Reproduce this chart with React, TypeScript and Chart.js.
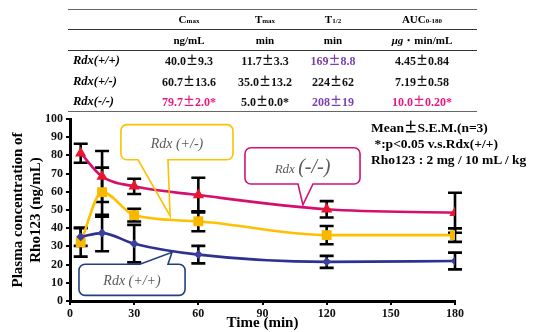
import React, { useEffect, useRef } from 'react';
import { Chart, registerables } from 'chart.js';
Chart.register(...registerables);

// ---- data ----
const times = [5, 15, 30, 60, 120, 180];
const koMean = [81.2, 68.4, 63.0, 58.2, 50.4, 48.5];   // Rdx(-/-)
const koSem = [5.2, 14.0, 4.2, 9.5, 4.5, 11.0];
const hetMean = [32.2, 59.8, 47.2, 43.8, 36.2, 36.2]; // Rdx(+/-)
const hetSem = [7.8, 13.5, 3.5, 5.5, 5.0, 3.7];
const wtMean = [35.3, 37.3, 31.5, 25.5, 21.5, 22.0];  // Rdx(+/+)
const wtSem = [5.0, 10.0, 10.3, 4.8, 3.3, 4.6];

const tableRows = ['Rdx(+/+)', 'Rdx(+/-)', 'Rdx(-/-)'];
const cmaxCol = ['40.0±9.3', '60.7±13.6', '79.7±2.0*'];
const tmaxCol = ['11.7±3.3', '35.0±13.2', '5.0±0.0*'];
const thalfCol = ['169±8.8', '224±62', '208±19'];
const aucCol = ['4.45±0.84', '7.19±0.58', '10.0±0.20*'];
const notes = ['Mean±S.E.M.(n=3)', ' *:p<0.05 v.s.Rdx(+/+)', 'Rho123 : 2 mg / 10 mL / kg'];

const SERIF = "'Liberation Serif', 'Times New Roman', serif";
const CJK = "'Noto Sans CJK JP', 'Noto Sans CJK SC', sans-serif";
const PINK = '#d40f6e';
const PURPLE = '#7d3fae';
const TXTPINK = '#e4187f';

const cellColors = {
  cmax: ['#111', '#111', TXTPINK],
  tmax: ['#111', '#111', '#111'],
  thalf: [PURPLE, '#111', PURPLE],
  auc: ['#111', '#111', TXTPINK],
};

type Callout = {
  box: [number, number, number, number];
  base: [number, number];
  tip: [number, number];
  side: 'top' | 'bottom';
  color: string;
};

const callouts: Callout[] = [
  { box: [23.8, 76.2, 96.9, 77.6], base: [31.8, 45.8], tip: [46.8, 46.7], side: 'bottom', color: '#ffc000' },
  { box: [81.8, 135.6, 84.2, 64.3], base: [106.6, 113.6], tip: [108.9, 52.8], side: 'bottom', color: '#d1127a' },
  { box: [4.2, 53.8, 20.2, 3.1], base: [32.7, 45.8], tip: [47.7, 26.8], side: 'top', color: '#233f82' },
];

function drawCallout(ctx: CanvasRenderingContext2D, chart: any, c: Callout) {
  const xs = chart.scales.x, ys = chart.scales.y;
  const x0 = xs.getPixelForValue(c.box[0]), x1 = xs.getPixelForValue(c.box[1]);
  const y0 = ys.getPixelForValue(c.box[2]), y1 = ys.getPixelForValue(c.box[3]);
  const b1 = xs.getPixelForValue(c.base[0]), b2 = xs.getPixelForValue(c.base[1]);
  const tx = xs.getPixelForValue(c.tip[0]), ty = ys.getPixelForValue(c.tip[1]);
  const r = 6;
  ctx.beginPath();
  ctx.moveTo(x0 + r, y0);
  if (c.side === 'top') {
    ctx.lineTo(b1, y0);
    ctx.lineTo(tx, ty);
    ctx.lineTo(b2, y0);
  }
  ctx.lineTo(x1 - r, y0);
  ctx.arcTo(x1, y0, x1, y0 + r, r);
  ctx.lineTo(x1, y1 - r);
  ctx.arcTo(x1, y1, x1 - r, y1, r);
  if (c.side === 'bottom') {
    ctx.lineTo(b2, y1);
    ctx.lineTo(tx, ty);
    ctx.lineTo(b1, y1);
  }
  ctx.lineTo(x0 + r, y1);
  ctx.arcTo(x0, y1, x0, y1 - r, r);
  ctx.lineTo(x0, y0 + r);
  ctx.arcTo(x0, y0, x0 + r, y0, r);
  ctx.closePath();
  ctx.strokeStyle = c.color;
  ctx.lineWidth = 1.6;
  ctx.stroke();
  return { cx: (x0 + x1) / 2, cy: (y0 + y1) / 2 };
}

const errorBarPlugin = {
  id: 'errorBars',
  beforeDatasetsDraw(chart: any) {
    const ctx = chart.ctx;
    const xs = chart.scales.x, ys = chart.scales.y;
    const series = [
      [koMean, koSem],
      [hetMean, hetSem],
      [wtMean, wtSem],
    ];
    ctx.save();
    ctx.strokeStyle = '#000';
    ctx.lineWidth = 2.6;
    series.forEach(([m, e]) => {
      m.forEach((v, i) => {
        const px = xs.getPixelForValue(times[i]);
        const top = ys.getPixelForValue(v + e[i]);
        const bot = ys.getPixelForValue(v - e[i]);
        ctx.beginPath();
        ctx.moveTo(px, top);
        ctx.lineTo(px, bot);
        ctx.moveTo(px - 7, top);
        ctx.lineTo(px + 7, top);
        ctx.moveTo(px - 7, bot);
        ctx.lineTo(px + 7, bot);
        ctx.stroke();
      });
    });
    ctx.restore();
  },
  afterDatasetsDraw(chart: any) {
    const ctx = chart.ctx;
    ctx.save();
    const c1 = drawCallout(ctx, chart, callouts[0]);
    const c2 = drawCallout(ctx, chart, callouts[1]);
    const c3 = drawCallout(ctx, chart, callouts[2]);
    ctx.fillStyle = '#595959';
    ctx.textAlign = 'center';
    ctx.textBaseline = 'middle';
    ctx.font = `italic 14px ${SERIF}`;
    ctx.fillText('Rdx (+/-)', c1.cx, c1.cy + 2);
    ctx.fillText('Rdx (+/+)', c3.cx, c3.cy + 2);
    ctx.font = `italic 13px ${SERIF}`;
    const w1 = ctx.measureText('Rdx ').width;
    ctx.font = `italic 20px ${SERIF}`;
    const w2 = ctx.measureText('(-/-)').width;
    const start = c2.cx - (w1 + w2) / 2;
    ctx.textAlign = 'left';
    ctx.textBaseline = 'alphabetic';
    ctx.font = `italic 13px ${SERIF}`;
    ctx.fillText('Rdx ', start, c2.cy + 7);
    ctx.font = `italic 20px ${SERIF}`;
    ctx.fillText('(-/-)', start + w1, c2.cy + 7);
    ctx.restore();
  },
  afterDraw(chart: any) {
    const ctx = chart.ctx;
    const area = chart.chartArea;
    ctx.save();
    ctx.fillStyle = '#000';
    ctx.font = `bold 15px ${SERIF}`;
    ctx.textAlign = 'center';
    ctx.textBaseline = 'middle';
    ctx.fillText('Time (min)', (area.left + area.right) / 2, 323);
    const cy = (area.top + area.bottom) / 2;
    ctx.translate(18, cy);
    ctx.rotate(-Math.PI / 2);
    ctx.fillText('Plasma concentration of', 0, 0);
    ctx.fillText('Rho123 (ng/mL)', 0, 18);
    ctx.restore();
  },
};

function ChartCanvas() {
  const ref = useRef<HTMLCanvasElement>(null);
  useEffect(() => {
    if (!ref.current) return;
    const mk = (m: number[]) => times.map((t, i) => ({ x: t, y: m[i] }));
    const tickFont = { family: SERIF, size: 12, weight: 'bold' as const };
    const chart = new Chart(ref.current, {
      type: 'line',
      data: {
        datasets: [
          {
            label: 'Rdx(+/+)', data: mk(wtMean), borderColor: '#2e3192', backgroundColor: '#3b3f9e',
            borderWidth: 2.6, pointStyle: 'rectRot', pointRadius: 4.5, pointBorderWidth: 0,
            cubicInterpolationMode: 'monotone',
          },
          {
            label: 'Rdx(+/-)', data: mk(hetMean), borderColor: '#ffc000', backgroundColor: '#f8b800',
            borderWidth: 2.6, pointStyle: 'rect', pointRadius: 7, pointBorderWidth: 0,
            cubicInterpolationMode: 'monotone',
          },
          {
            label: 'Rdx(-/-)', data: mk(koMean), borderColor: PINK, backgroundColor: '#e8162f',
            borderWidth: 2.6, pointStyle: 'triangle', pointRadius: 6.5, pointBorderWidth: 0,
            cubicInterpolationMode: 'monotone',
          },
        ],
      },
      options: {
        animation: false,
        responsive: false,
        maintainAspectRatio: false,
        layout: { padding: { top: 119, right: 83, left: 0, bottom: 0 } },
        plugins: { legend: { display: false }, tooltip: { enabled: false } },
        scales: {
          x: {
            type: 'linear', min: 0, max: 180,
            ticks: { stepSize: 30, font: tickFont, color: '#111', padding: 2, maxRotation: 0 },
            grid: { drawOnChartArea: false, drawTicks: true, tickLength: 4, color: '#000', lineWidth: 2 },
            border: { color: '#000', width: 3 },
            afterFit: (s: any) => { s.height = 31; },
          },
          y: {
            min: 0, max: 100,
            ticks: { stepSize: 10, font: tickFont, color: '#111', padding: 3 },
            grid: { drawOnChartArea: false, drawTicks: true, tickLength: 4, color: '#000', lineWidth: 2 },
            border: { color: '#000', width: 3 },
            afterFit: (s: any) => { s.width = 70; },
          },
        },
      },
      plugins: [errorBarPlugin],
    });
    return () => chart.destroy();
  }, []);
  return (
    <canvas ref={ref} width={538} height={332}
      style={{ position: 'absolute', left: 0, top: 0, width: 538, height: 332 }} />
  );
}

// render "±" as a full-width glyph like the original
function PM({ text }: { text: string }) {
  const parts = text.split('±');
  return (
    <>
      {parts.map((p, i) => (
        <React.Fragment key={i}>
          {i > 0 && <span style={{ fontFamily: CJK, fontWeight: 'bold' }}>±</span>}
          {p}
        </React.Fragment>
      ))}
    </>
  );
}

const abs = (x: number, y: number, extra: React.CSSProperties = {}): React.CSSProperties => ({
  position: 'absolute', left: x, top: y, transform: 'translate(-50%, -50%)', whiteSpace: 'nowrap',
  lineHeight: 1, fontFamily: SERIF, fontWeight: 'bold', ...extra,
});

function Table() {
  const colX = [189, 265, 333, 422];
  const rowY = [60, 81, 101];
  const cols = [
    { vals: cmaxCol, colors: cellColors.cmax },
    { vals: tmaxCol, colors: cellColors.tmax },
    { vals: thalfCol, colors: cellColors.thalf },
    { vals: aucCol, colors: cellColors.auc },
  ];
  const sub: React.CSSProperties = { fontSize: 7 };
  const line = (y: number, h: number, c: string) => (
    <div style={{ position: 'absolute', left: 68, width: 409, top: y, height: h, background: c }} />
  );
  return (
    <>
      {line(9, 1, '#666')}
      {line(28.5, 1.6, '#333')}
      {line(49.5, 1.6, '#333')}
      {line(110.5, 1, '#666')}
      <div style={abs(colX[0], 19, { fontSize: 11 })}>C<span style={sub}>max</span></div>
      <div style={abs(colX[1], 19, { fontSize: 11 })}>T<span style={sub}>max</span></div>
      <div style={abs(colX[2], 19, { fontSize: 11 })}>T<span style={sub}>1/2</span></div>
      <div style={abs(colX[3], 19, { fontSize: 11 })}>AUC<span style={sub}>0-180</span></div>
      <div style={abs(colX[0], 40, { fontSize: 11 })}>ng/mL</div>
      <div style={abs(colX[1], 40, { fontSize: 11 })}>min</div>
      <div style={abs(colX[2], 40, { fontSize: 11 })}>min</div>
      <div style={abs(colX[3], 40, { fontSize: 11 })}><i>μg</i>・min/mL</div>
      {tableRows.map((r, i) => (
        <div key={r} style={abs(73, rowY[i], { fontSize: 12.5, fontStyle: 'italic', transform: 'translate(0, -50%)' })}>{r}</div>
      ))}
      {cols.map((c, ci) => c.vals.map((v, ri) => (
        <div key={`${ci}-${ri}`} style={abs(colX[ci], rowY[ri], { fontSize: 12, color: c.colors[ri] })}><PM text={v} /></div>
      )))}
      {notes.map((n, i) => (
        <div key={i} style={abs(371, 127 + i * 16.5, { fontSize: 13.5, transform: 'translate(0, -50%)', whiteSpace: 'pre' })}><PM text={n} /></div>
      ))}
    </>
  );
}

export default function App() {
  return (
    <div style={{ position: 'relative', width: 538, height: 332, background: '#fff', overflow: 'hidden' }}>
      <style>{'body{margin:0;}'}</style>
      <ChartCanvas />
      <Table />
    </div>
  );
}
